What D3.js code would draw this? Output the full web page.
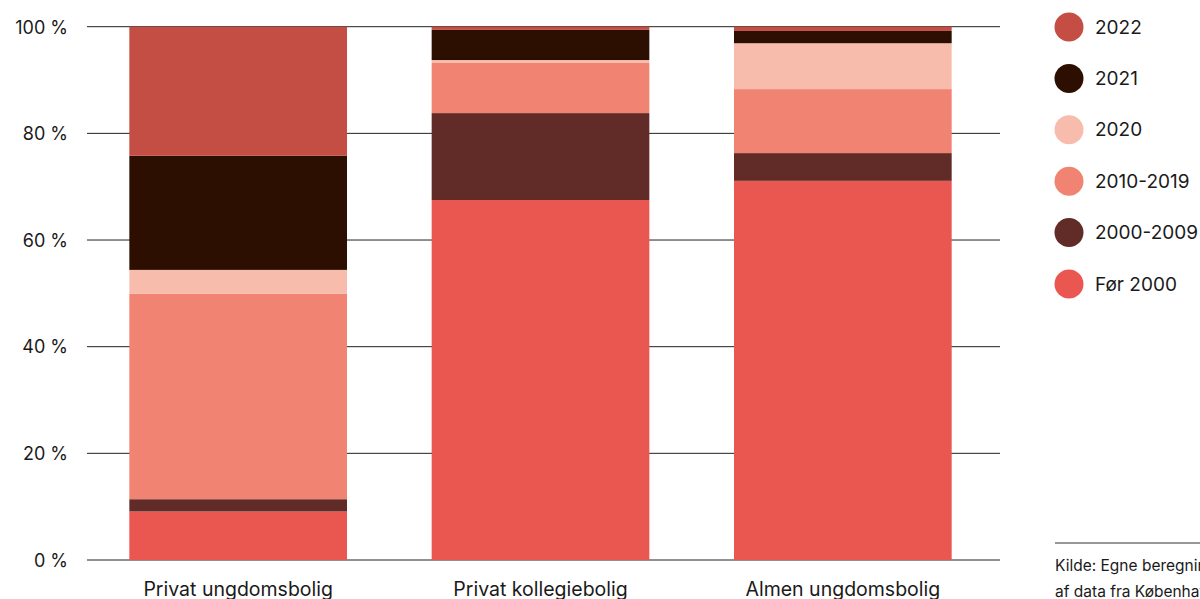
<!DOCTYPE html>
<html><head><meta charset="utf-8">
<script src="https://cdn.jsdelivr.net/npm/d3@7"></script>
<style>
body{margin:0;background:#fff;overflow:hidden}
svg{display:block}
text{font-family:"Inter","Noto Sans",sans-serif;fill:#1a1a1a}
</style></head>
<body><svg id="c" width="1200" height="599"></svg>
<script>
const categories = ["Privat ungdomsbolig", "Privat kollegiebolig", "Almen ungdomsbolig"];
const seriesNames = ["Før 2000", "2000-2009", "2010-2019", "2020", "2021", "2022"];
const forr2000   = [9.1, 67.5, 71.1];
const s2000_2009 = [2.3, 16.3, 5.2];
const s2010_2019 = [38.5, 9.4, 12.0];
const s2020      = [4.5, 0.55, 8.6];
const s2021      = [21.4, 5.65, 2.3];
const s2022      = [24.2, 0.6, 0.8];
const yTicks = [0, 20, 40, 60, 80, 100];
const colors = ["#ea5750", "#612b27", "#f08372", "#f8bcad", "#2c0f01", "#c44e44"];
const sourceLines = ["Kilde: Egne beregninger på baggrund", "af data fra Københavns Kommune"];

const seriesValues = [forr2000, s2000_2009, s2010_2019, s2020, s2021, s2022];
const rows = categories.map((c, i) => {
  const r = {cat: c};
  seriesNames.forEach((s, j) => r[s] = seriesValues[j][i]);
  return r;
});
const stacked = d3.stack().keys(seriesNames)(rows);

const svg = d3.select("#c");
const x = d3.scaleBand().domain(categories).range([87, 994]).paddingInner(0.28).paddingOuter(0.14);
const y = d3.scaleLinear().domain([0, 100]).range([560, 26.7]);
const color = d3.scaleOrdinal().domain(seriesNames).range(colors);

// grid
svg.append("g").selectAll("line").data(yTicks).join("line")
  .attr("x1", 87).attr("x2", 1000)
  .attr("y1", d => y(d)).attr("y2", d => y(d))
  .attr("stroke", "#222").attr("stroke-width", 1);

// y labels
const yAxis = d3.axisLeft(y).tickValues(yTicks).tickFormat(d => d + " %").tickSize(0).tickPadding(0);
const ga = svg.append("g").attr("transform", "translate(68,0)").call(yAxis);
ga.select(".domain").remove();
ga.selectAll("text").attr("font-size", 18).attr("font-family", "Inter, sans-serif").attr("fill", "#1a1a1a").attr("dy", "0.35em");

// bars
svg.append("g").selectAll("g").data(stacked).join("g")
  .attr("fill", d => color(d.key))
  .selectAll("rect").data(d => d).join("rect")
  .attr("x", d => x(d.data.cat)).attr("width", x.bandwidth())
  .attr("y", d => y(d[1])).attr("height", d => y(d[0]) - y(d[1]));

// x labels
const xAxis = d3.axisBottom(x).tickSize(0).tickPadding(0);
const gx = svg.append("g").attr("transform", "translate(0,582)").call(xAxis);
gx.select(".domain").remove();
gx.selectAll("text").attr("font-size", 19.5).attr("font-family", "Inter, sans-serif").attr("fill", "#1a1a1a").attr("dy", "0.71em");

// legend
const legendOrder = seriesNames.slice().reverse();
const lg = svg.append("g").selectAll("g").data(legendOrder).join("g")
  .attr("transform", (d, i) => `translate(1069,${27 + i * 51.4})`);
lg.append("circle").attr("r", 14.5).attr("fill", d => color(d));
lg.append("text").attr("x", 26).attr("dy", "0.35em").attr("font-size", 19).text(d => d);

// source
svg.append("line").attr("x1", 1055).attr("x2", 1200).attr("y1", 543).attr("y2", 543).attr("stroke", "#333").attr("stroke-width", 1);
svg.append("g").selectAll("text").data(sourceLines).join("text")
  .attr("x", 1055).attr("y", (d, i) => 566 + i * 26).attr("dy", "0.35em")
  .attr("font-size", 15.5).text(d => d);
</script></body></html>
